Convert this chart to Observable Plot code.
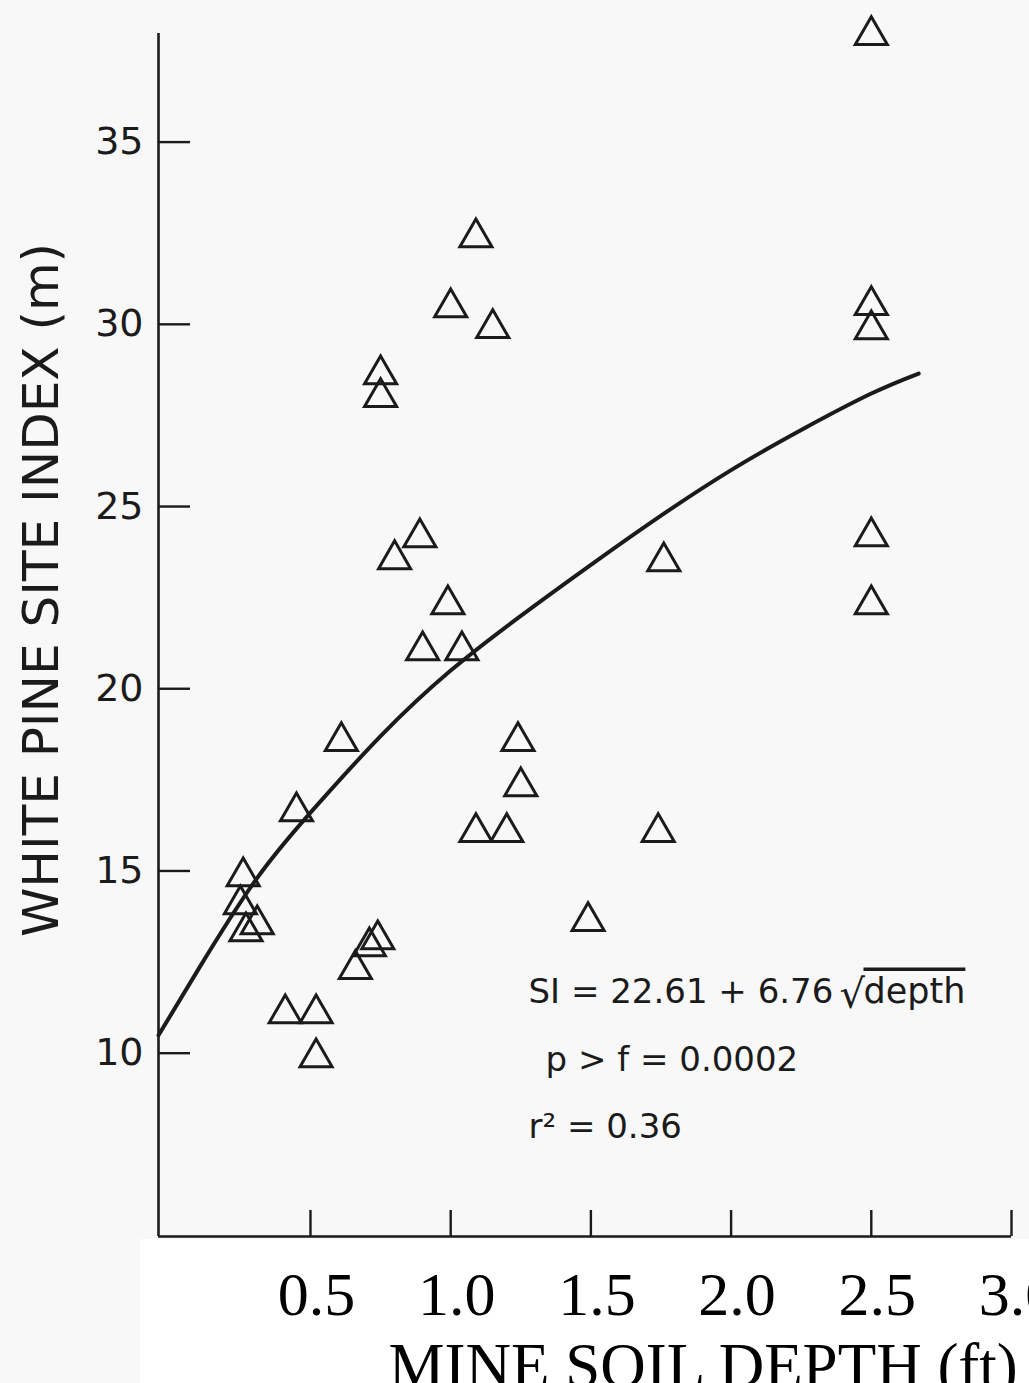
<!DOCTYPE html>
<html>
<head>
<meta charset="utf-8">
<script src="https://cdn.jsdelivr.net/npm/d3@7"></script>
<script src="https://cdn.jsdelivr.net/npm/@observablehq/plot@0.6"></script>
<style>
  html, body { margin: 0; padding: 0; background: #f8f8f8; overflow: hidden; }
  #wrap { position: relative; width: 1029px; height: 1383px; }
  #strip { position: absolute; left: 140px; top: 1239px; right: 0; bottom: 0; background: #ffffff; }
  #chart { position: absolute; left: 0; top: 0; }
</style>
</head>
<body>
<div id="wrap"><div id="strip"></div><div id="chart"></div></div>
<script>
// ---- data ----
const pointDepth = [0.26, 0.25, 0.31, 0.27, 0.45, 0.61, 0.74, 0.71, 0.66, 0.41, 0.52, 0.52,
                    0.75, 0.75, 0.89, 0.80, 0.99, 0.90, 1.04, 1.09, 1.00, 1.15, 1.24, 1.25,
                    1.09, 1.20, 1.74, 1.76, 1.49, 2.5, 2.5, 2.5, 2.5, 2.5];
const pointSI    = [14.85, 14.08, 13.53, 13.34, 16.63, 18.56, 13.12, 12.93, 12.30, 11.09, 11.09, 9.88,
                    28.62, 28.00, 24.15, 23.55, 22.31, 21.05, 21.05, 32.38, 30.46, 29.89, 18.56, 17.32,
                    16.06, 16.06, 16.06, 23.49, 13.62, 37.93, 30.52, 29.86, 24.18, 22.31];

// fitted curve as drawn in the figure
const curveDepth = [-0.042, 0.1, 0.3, 0.5, 0.75, 1.0, 1.25, 1.5, 1.75, 2.0, 2.25, 2.5, 2.669];
const curveSI    = [10.49, 12.3, 14.7, 16.6, 18.7, 20.5, 22.0, 23.4, 24.75, 26.0, 27.1, 28.1, 28.65];

const xTicks = [0.5, 1.0, 1.5, 2.0, 2.5, 3.0];
const yTicks = [10, 15, 20, 25, 30, 35];
const xDomain = [-0.042, 3.0];
const yDomain = [4.97, 37.98];

const xTitle = "MINE SOIL DEPTH (ft)";
const yTitle = "WHITE PINE SITE INDEX (m)";
const eqLine1 = "SI = 22.61 + 6.76";
const eqRoot = "\u221A";
const eqDepth = "depth";
const eqLine2 = "p > f = 0.0002";
const eqLine3 = "r\u00B2 = 0.36";

// ---- build ----
const points = pointDepth.map((d, i) => ({depth: d, si: pointSI[i]}));
const curve = curveDepth.map((d, i) => ({depth: d, si: curveSI[i]}));

const ink = "#1b1b1b";
const sans = "DejaVu Sans, Verdana, sans-serif";
const serif = "Liberation Serif, Times New Roman, serif";

const chart = Plot.plot({
  width: 1029,
  height: 1383,
  marginLeft: 158,
  marginRight: 18,
  marginTop: 33,
  marginBottom: 147,
  x: {domain: xDomain},
  y: {domain: yDomain},
  style: {background: "transparent", color: ink, fontFamily: sans},
  marks: [
    Plot.ruleX([xDomain[0]], {stroke: ink, strokeWidth: 2.6}),
    Plot.ruleY([yDomain[0]], {stroke: ink, strokeWidth: 2.6}),
    // y ticks pointing inward, labels outside
    Plot.axisY(yTicks, {anchor: "left", tickSize: 32, dx: 32, tickPadding: 15,
      strokeWidth: 2.4, fontSize: 38, fontFamily: sans, fill: ink, label: null}),
    // x ticks pointing up
    Plot.axisX(xTicks, {anchor: "bottom", tickSize: 26, dy: -26, strokeWidth: 2.4,
      fill: "none", label: null}),
    // x tick labels in serif type
    Plot.axisX(xTicks, {anchor: "bottom", tickSize: 0, tickPadding: 34, dx: 6,
      fontSize: 62, fontFamily: serif, fill: "#000", tickFormat: d3.format(".1f"), label: null}),
    // fitted curve
    Plot.line(curve, {x: "depth", y: "si", curve: "natural", stroke: ink, strokeWidth: 4}),
    // observations
    Plot.dot(points, {x: "depth", y: "si", symbol: "triangle", r: 11.9,
      fill: "none", stroke: ink, strokeWidth: 3}),
    // axis titles
    Plot.text([yTitle], {text: d => d, frameAnchor: "left", rotate: -90, dx: -117, dy: -45,
      textAnchor: "middle", fontSize: 50, fontFamily: sans, fill: ink}),
    Plot.text([xTitle], {text: d => d, frameAnchor: "bottom-left", dx: 230, dy: 150,
      textAnchor: "start", lineAnchor: "bottom", fontSize: 63, fontFamily: serif, fill: "#000"}),
    // equation annotation
    Plot.text([eqLine1], {text: d => d, frameAnchor: "top-left", dx: 370, dy: 969,
      textAnchor: "start", lineAnchor: "bottom", fontSize: 34, fontFamily: sans, fill: ink}),
    Plot.text([eqRoot], {text: d => d, frameAnchor: "top-left", dx: 681, dy: 974,
      textAnchor: "start", lineAnchor: "bottom", fontSize: 40, fontFamily: sans, fill: ink}),
    Plot.text([eqDepth], {text: d => d, frameAnchor: "top-left", dx: 705, dy: 969,
      textAnchor: "start", lineAnchor: "bottom", fontSize: 35, fontFamily: sans, fill: ink}),
    Plot.text([eqLine2], {text: d => d, frameAnchor: "top-left", dx: 387, dy: 1037,
      textAnchor: "start", lineAnchor: "bottom", fontSize: 34, fontFamily: sans, fill: ink}),
    Plot.text([eqLine3], {text: d => d, frameAnchor: "top-left", dx: 370, dy: 1104,
      textAnchor: "start", lineAnchor: "bottom", fontSize: 34, fontFamily: sans, fill: ink})
  ]
});

chart.querySelectorAll("text").forEach(t => {
  if (t.textContent === eqDepth) t.style.textDecoration = "overline";
});

document.getElementById("chart").appendChild(chart);
</script>
</body>
</html>
